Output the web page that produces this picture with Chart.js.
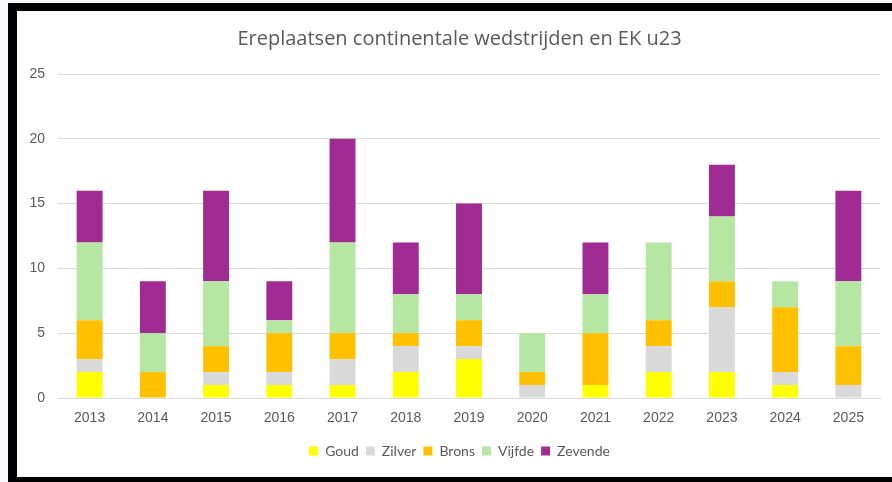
<!DOCTYPE html>
<html>
<head>
<meta charset="utf-8">
<title>Ereplaatsen continentale wedstrijden en EK u23</title>
<script src="https://cdn.jsdelivr.net/npm/chart.js"></script>
<style>
    html, body { margin: 0; padding: 0; }
    body { width: 892px; height: 482px; overflow: hidden; background: #f8f8fc; position: relative; }
    #frame {
        position: absolute; left: 8px; top: 3px;
        width: 900px; height: 466px;
        border-left: 9px solid #000; border-top: 8px solid #000; border-bottom: 9px solid #000;
        background: #fff;
        overflow: hidden;
    }
    #chart-container { position: absolute; left: 0; top: 0; width: 875px; height: 466px; }
</style>
</head>
<body>
<div id="frame">
    <div id="chart-container">
        <canvas id="myChart"></canvas>
    </div>
</div>
<script>
    const years = ['2013', '2014', '2015', '2016', '2017', '2018', '2019', '2020', '2021', '2022', '2023', '2024', '2025'];
    const goud = [2, 0, 1, 1, 1, 2, 3, 0, 1, 2, 2, 1, 0];
    const zilver = [1, 0, 1, 1, 2, 2, 1, 1, 0, 2, 5, 1, 1];
    const brons = [3, 2, 2, 3, 2, 1, 2, 1, 4, 2, 2, 5, 3];
    const vijfde = [6, 3, 5, 1, 7, 3, 2, 3, 3, 6, 5, 2, 5];
    const zevende = [4, 4, 7, 3, 8, 4, 7, 0, 4, 0, 4, 0, 7];
    const yTicks = [0, 5, 10, 15, 20, 25];

    const grey = '#595959';
    const gridColor = '#d9d9d9';

    const series = [
        { label: 'Goud', data: goud, color: '#ffff00' },
        { label: 'Zilver', data: zilver, color: '#d9d9d9' },
        { label: 'Brons', data: brons, color: '#ffc000' },
        { label: 'Vijfde', data: vijfde, color: '#b5e6a2' },
        { label: 'Zevende', data: zevende, color: '#a02b93' },
    ];

    // Excel centres title and legend a bit more to the right than Chart.js does
    const shiftBlocks = {
        id: 'shiftBlocks',
        afterLayout(chart) {
            [chart.titleBlock, chart.legend].forEach(b => {
                if (b) { b.left += 11; b.right += 11; }
            });
        },
    };

    const ctx = document.getElementById('myChart').getContext('2d');
    new Chart(ctx, {
        type: 'bar',
        data: {
            labels: years,
            datasets: series.map(s => ({
                label: s.label,
                data: s.data,
                backgroundColor: s.color,
                borderWidth: 0,
                categoryPercentage: 1,
                barPercentage: 0.41,
            })),
        },
        plugins: [shiftBlocks],
        options: {
            responsive: true,
            maintainAspectRatio: false,
            animation: false,
            layout: { padding: { left: 0, right: 12, top: 0, bottom: 9 } },
            plugins: {
                title: {
                    display: true,
                    text: 'Ereplaatsen continentale wedstrijden en EK u23',
                    color: grey,
                    font: { family: "'Open Sans', sans-serif", size: 20, weight: 'normal' },
                    padding: { top: 16, bottom: 23 },
                },
                legend: {
                    position: 'bottom',
                    labels: {
                        color: grey,
                        font: { family: 'Lato, sans-serif', size: 14 },
                        boxWidth: 9,
                        boxHeight: 9,
                        padding: 7,
                    },
                },
                tooltip: { enabled: false },
            },
            scales: {
                x: {
                    stacked: true,
                    grid: { display: false },
                    border: { color: gridColor, width: 1 },
                    ticks: {
                        color: grey,
                        font: { family: "'Liberation Sans', Arial, sans-serif", size: 14 },
                        padding: 4,
                        maxRotation: 0,
                    },
                    afterFit: (scale) => { scale.height = 39; },
                },
                y: {
                    stacked: true,
                    min: 0,
                    max: 25,
                    grid: { color: gridColor, lineWidth: 1, drawTicks: false },
                    border: { display: false },
                    afterBuildTicks: (scale) => { scale.ticks = yTicks.map(v => ({ value: v })); },
                    ticks: {
                        color: grey,
                        font: { family: "'Liberation Sans', Arial, sans-serif", size: 14 },
                        padding: 13,
                    },
                    afterFit: (scale) => { scale.width = 41; },
                },
            },
        },
    });
</script>
</body>
</html>
